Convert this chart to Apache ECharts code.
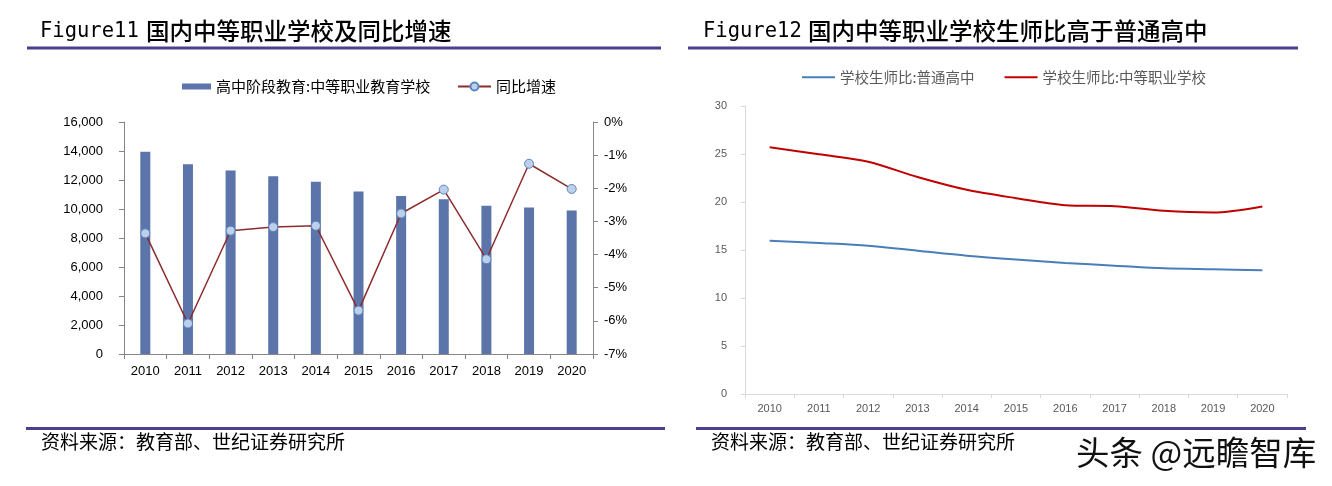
<!DOCTYPE html>
<html><head><meta charset="utf-8">
<script src="https://cdn.jsdelivr.net/npm/echarts@6/dist/echarts.min.js"></script>
<style>html,body{margin:0;padding:0;background:#fff}#c{width:1332px;height:486px}</style>
</head><body><div id="c"></div>
<script>
const years = ['2010','2011','2012','2013','2014','2015','2016','2017','2018','2019','2020'];
const vocSchools = [13940,13093,12663,12262,11878,11202,10893,10671,10229,10100,9896];
const yoyGrowth = [-3.36,-6.08,-3.28,-3.17,-3.13,-5.69,-2.76,-2.04,-4.14,-1.26,-2.02];
const ratioHigh = [15.97,15.73,15.45,14.93,14.41,14.00,13.65,13.37,13.09,12.99,12.89];
const ratioVoc = [25.70,24.97,24.20,22.60,21.27,20.40,19.67,19.57,19.08,18.90,19.53];
const barName = '高中阶段教育:中等职业教育学校';
const lineName = '同比增速';
const highName = '学校生师比:普通高中';
const vocName = '学校生师比:中等职业学校';
const title1 = '国内中等职业学校及同比增速';
const title2 = '国内中等职业学校生师比高于普通高中';
const source = '资料来源：教育部、世纪证券研究所';
const watermark = '头条 @远瞻智库';

const CJK = '"Noto Sans CJK SC", sans-serif';
const NUM = '"Liberation Sans", Arial, sans-serif';
const chart = echarts.init(document.getElementById('c'), null, {renderer: 'canvas'});

const axisL = {lineStyle: {color: '#868686', width: 1}};
const axisR = {lineStyle: {color: '#D9D9D9', width: 1}};

chart.setOption({
  animation: false,
  backgroundColor: '#fff',
  graphic: [
    {type: 'text', left: 40, top: 21, style: {text: 'Figure11', font: '500 20.5px "DejaVu Sans Mono", monospace', fill: '#000'}},
    {type: 'text', left: 146, top: 19, style: {text: title1, font: '500 23.5px ' + CJK, fill: '#000'}},
    {type: 'rect', shape: {x: 27, y: 46.5, width: 634, height: 3}, style: {fill: '#4B3F8E'}},
    {type: 'text', left: 703, top: 21, style: {text: 'Figure12', font: '500 20.5px "DejaVu Sans Mono", monospace', fill: '#000'}},
    {type: 'text', left: 808, top: 19, style: {text: title2, font: '500 23.5px ' + CJK, fill: '#000'}},
    {type: 'rect', shape: {x: 688, y: 46.5, width: 610, height: 3}, style: {fill: '#4B3F8E'}},
    {type: 'rect', shape: {x: 26, y: 427, width: 639, height: 3}, style: {fill: '#4B3F8E'}},
    {type: 'rect', shape: {x: 696, y: 427, width: 610, height: 3}, style: {fill: '#4B3F8E'}},
    {type: 'text', left: 41, top: 432, style: {text: source, font: '19px ' + CJK, fill: '#000'}},
    {type: 'text', left: 711, top: 432, style: {text: source, font: '19px ' + CJK, fill: '#000'}},
    {type: 'text', left: 1076, top: 436, style: {text: watermark, font: '33.5px ' + CJK, fill: '#111'}}
  ],
  legend: [
    {data: [barName], left: 177, top: 74, itemWidth: 29, itemHeight: 6, icon: 'rect', itemGap: 12,
     textStyle: {fontSize: 15, color: '#000', fontFamily: CJK}},
    {data: [lineName], left: 452, top: 74, itemWidth: 33, itemHeight: 10, itemGap: 5,
     textStyle: {fontSize: 15, color: '#000', fontFamily: CJK}},
    {data: [highName, vocName], left: 797, top: 65, itemWidth: 33, itemHeight: 2, icon: 'rect', itemGap: 30,
     textStyle: {fontSize: 14.5, color: '#595959', fontFamily: CJK}}
  ],
  grid: [
    {left: 124, right: 739, top: 122, bottom: 132, containLabel: false},
    {left: 745, right: 45, top: 106, bottom: 92, containLabel: false}
  ],
  xAxis: [
    {type: 'category', gridIndex: 0, data: years, boundaryGap: true,
     axisLine: axisL, axisTick: {show: true, length: 5, alignWithLabel: false, lineStyle: {color: '#868686'}},
     axisLabel: {color: '#000', fontSize: 13, margin: 11, fontFamily: NUM}},
    {type: 'category', gridIndex: 1, data: years, boundaryGap: true,
     axisLine: axisR, axisTick: {show: true, length: 4, alignWithLabel: false, lineStyle: {color: '#D9D9D9'}},
     axisLabel: {color: '#595959', fontSize: 11, margin: 9, fontFamily: NUM}}
  ],
  yAxis: [
    {type: 'value', gridIndex: 0, min: 0, max: 16000, interval: 2000, position: 'left',
     axisLine: Object.assign({show: true}, axisL), axisTick: {show: true, length: 5, lineStyle: {color: '#868686'}},
     splitLine: {show: false},
     axisLabel: {color: '#000', fontSize: 13, margin: 21, fontFamily: NUM,
       formatter: v => v.toLocaleString('en-US')}},
    {type: 'value', gridIndex: 0, min: -7, max: 0, interval: 1, position: 'right',
     axisLine: Object.assign({show: true}, axisL), axisTick: {show: true, length: 5, lineStyle: {color: '#868686'}},
     splitLine: {show: false},
     axisLabel: {color: '#000', fontSize: 13, margin: 11, fontFamily: NUM, formatter: v => v + '%'}},
    {type: 'value', gridIndex: 1, min: 0, max: 30, interval: 5,
     axisLine: Object.assign({show: true}, axisR), axisTick: {show: true, length: 4, lineStyle: {color: '#D9D9D9'}},
     splitLine: {show: false},
     axisLabel: {color: '#595959', fontSize: 11, margin: 18, fontFamily: NUM}}
  ],
  series: [
    {name: barName, type: 'bar', xAxisIndex: 0, yAxisIndex: 0, data: vocSchools, barWidth: 10,
     itemStyle: {color: '#5B74AA'}},
    {name: lineName, type: 'line', xAxisIndex: 0, yAxisIndex: 1, data: yoyGrowth,
     symbol: 'circle', symbolSize: 9, z: 5,
     lineStyle: {color: '#8B2D2D', width: 1.5},
     itemStyle: {color: '#BCD0EA', borderColor: '#5A86C4', borderWidth: 1}},
    {name: highName, type: 'line', xAxisIndex: 1, yAxisIndex: 2, data: ratioHigh,
     symbol: 'none', smooth: 0.3, lineStyle: {color: '#4A7EBB', width: 2}, itemStyle: {color: '#4A7EBB'}},
    {name: vocName, type: 'line', xAxisIndex: 1, yAxisIndex: 2, data: ratioVoc,
     symbol: 'none', smooth: 0.3, lineStyle: {color: '#C00000', width: 2}, itemStyle: {color: '#C00000'}}
  ]
});
</script></body></html>
